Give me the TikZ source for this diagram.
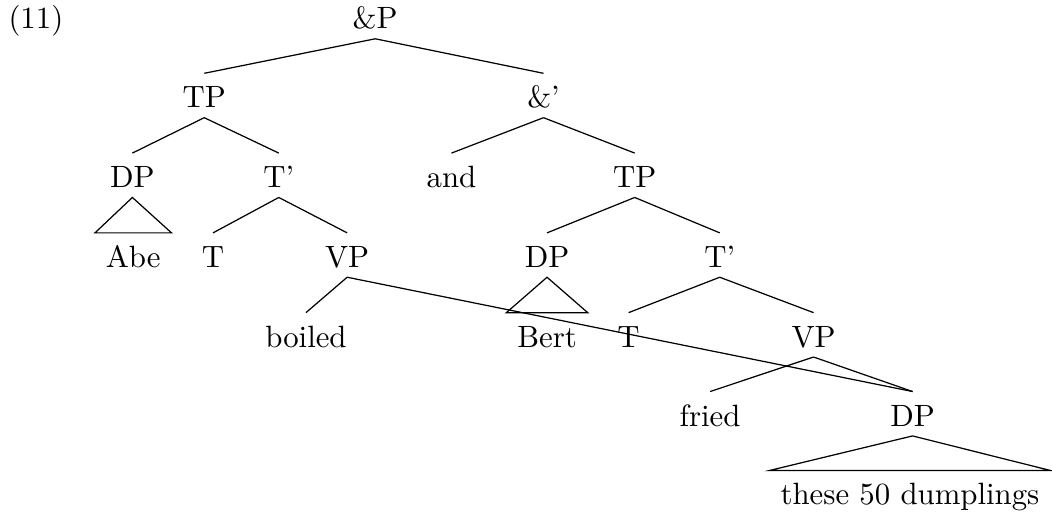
\documentclass[tikz,border=0pt]{standalone}

\begin{document}
\begin{tikzpicture}[
        word/.style={anchor=base, text height=8pt, text depth=0pt, inner ysep=3pt}]
        \useasboundingbox (0,0) rectangle (12.0,-5.865);

        \node[anchor=base west, inner sep=0pt] (ex) at (0.09,-0.33) {(11)};

        \node[word] (andP) at (4.28,-0.33) {\&P};
        \node[word] (TPa) at (2.33,-1.23) {TP};
        \node[word] (andbar) at (6.20,-1.23) {\&'};
        \node[word] (DPa) at (1.51,-2.14) {DP};
        \node[word] (Tbara) at (3.18,-2.14) {T'};
        \node[word] (and) at (5.15,-2.14) {and};
        \node[word] (TPb) at (7.24,-2.14) {TP};
        \node[word] (abe) at (1.52,-3.05) {Abe};
        \node[word] (Ta) at (2.43,-3.05) {T};
        \node[word] (VPa) at (3.96,-3.05) {VP};
        \node[word] (DPb) at (6.24,-3.05) {DP};
        \node[word] (Tbarb) at (8.21,-3.05) {T'};
        \node[word] (boiled) at (3.49,-3.96) {boiled};
        \node[word] (bert) at (6.24,-3.96) {Bert};
        \node[word] (Tb) at (7.17,-3.96) {T};
        \node[word] (VPb) at (9.28,-3.96) {VP};
        \node[word] (fried) at (8.10,-4.86) {fried};
        \node[word] (DPc) at (10.41,-4.86) {DP};
        \node[word] (dumplings) at (10.38,-5.76) {these 50 dumplings};

        \draw (andP.south) -- (TPa.north);
        \draw (andP.south) -- (andbar.north);
        \draw (TPa.south) -- (DPa.north);
        \draw (TPa.south) -- (Tbara.north);
        \draw (andbar.south) -- (and.north);
        \draw (andbar.south) -- (TPb.north);
        \draw (Tbara.south) -- (Ta.north);
        \draw (Tbara.south) -- (VPa.north);
        \draw (TPb.south) -- (DPb.north);
        \draw (TPb.south) -- (Tbarb.north);
        \draw (VPa.south) -- (boiled.north);
        \draw (VPa.south) -- (DPc.north);
        \draw (Tbarb.south) -- (Tb.north);
        \draw (Tbarb.south) -- (VPb.north);
        \draw (VPb.south) -- (fried.north);
        \draw (VPb.south) -- (DPc.north);

        % roofs over the unanalysed DPs
        \draw (DPa.south) -- (abe.north west) -- (abe.north east) -- cycle;
        \draw (DPb.south) -- (bert.north west) -- (bert.north east) -- cycle;
        \draw (DPc.south) -- (dumplings.north west) -- (dumplings.north east) -- cycle;
    \end{tikzpicture}
\end{document}
